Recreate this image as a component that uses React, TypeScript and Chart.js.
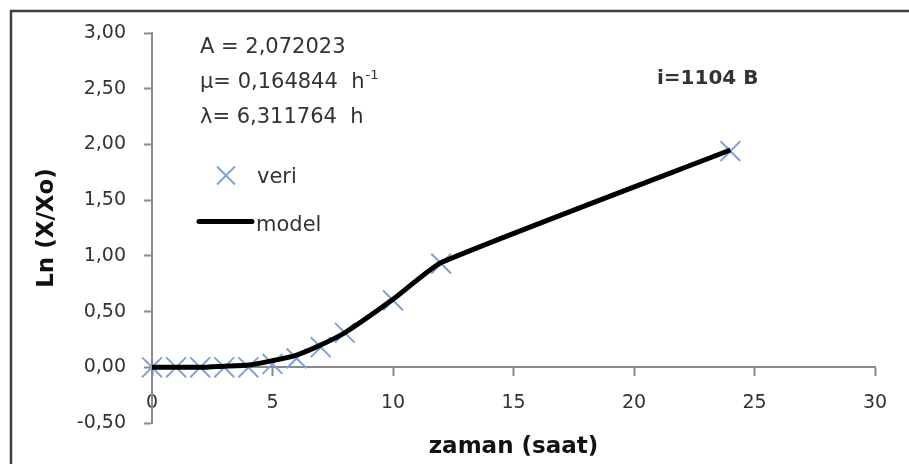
import React, { useEffect, useRef } from 'react';
import { Chart, registerables } from 'chart.js';

Chart.register(...registerables);

// ---- data ----
const veriX = [0, 1, 2, 3, 4, 5, 6, 7, 8, 10, 12, 24];
const veriY = [0.0, 0.0, 0.0, 0.0, 0.0, 0.03, 0.08, 0.18, 0.31, 0.6, 0.93, 1.94];
const modelX = [0, 1, 2, 3, 4, 5, 6, 7, 8, 10, 12, 24];
const modelY = [0.0, 0.0, 0.0, 0.01, 0.02, 0.06, 0.11, 0.2, 0.31, 0.61, 0.94, 1.95];

const xMin = 0;
const xMax = 30;
const xStep = 5;
const yMin = -0.5;
const yMax = 3;
const yStep = 0.5;

const seriesNames = ['veri', 'model'];
const paramLines = ['A = 2,072023', 'μ= 0,164844  h', 'λ= 6,311764  h'];
const paramSup = '-1';
const sampleLabel = 'i=1104 B';
const xTitle = 'zaman (saat)';
const yTitle = 'Ln (X/Xo)';

const FONT = "'DejaVu Sans', sans-serif";
const TEXT = '#333333';
const AXIS = '#8a8a8a';
const CROSS = '#7ea3d6';

const overlay = {
  id: 'overlay',
  afterDraw(chart: any) {
    const ctx = chart.ctx as CanvasRenderingContext2D;
    const ca = chart.chartArea;
    ctx.save();

    // outer frame
    ctx.strokeStyle = '#404040';
    ctx.lineWidth = 2.5;
    ctx.beginPath();
    ctx.moveTo(11, 480);
    ctx.lineTo(11, 11);
    ctx.lineTo(930, 11);
    ctx.stroke();

    // parameter text
    ctx.fillStyle = TEXT;
    ctx.textAlign = 'left';
    ctx.textBaseline = 'alphabetic';
    ctx.font = `21px ${FONT}`;
    const bases = [53, 88, 123];
    paramLines.forEach((t, i) => ctx.fillText(t, 200, bases[i]));
    const w2 = ctx.measureText(paramLines[1]).width;
    ctx.font = `13px ${FONT}`;
    ctx.fillText(paramSup, 200 + w2 + 1, 79);

    // sample label
    ctx.font = `bold 20px ${FONT}`;
    ctx.fillText(sampleLabel, 657, 84);

    // legend
    ctx.strokeStyle = CROSS;
    ctx.lineWidth = 2;
    ctx.beginPath();
    const cx = 226, cy = 175.5, h = 9;
    ctx.moveTo(cx - h, cy - h);
    ctx.lineTo(cx + h, cy + h);
    ctx.moveTo(cx + h, cy - h);
    ctx.lineTo(cx - h, cy + h);
    ctx.stroke();
    ctx.font = `21px ${FONT}`;
    ctx.fillStyle = TEXT;
    ctx.fillText(seriesNames[0], 257, 183);
    ctx.strokeStyle = '#000';
    ctx.lineWidth = 5;
    ctx.lineCap = 'round';
    ctx.beginPath();
    ctx.moveTo(199, 221.5);
    ctx.lineTo(252, 221.5);
    ctx.stroke();
    ctx.fillText(seriesNames[1], 256, 231);

    // axis titles
    ctx.fillStyle = '#111';
    ctx.font = `bold 23px ${FONT}`;
    ctx.textAlign = 'center';
    ctx.fillText(xTitle, (ca.left + ca.right) / 2, 453);
    ctx.save();
    ctx.translate(53, (ca.top + ca.bottom) / 2);
    ctx.rotate(-Math.PI / 2);
    ctx.fillText(yTitle, 0, 0);
    ctx.restore();

    ctx.restore();
  },
};

export default function App() {
  const ref = useRef<HTMLCanvasElement | null>(null);

  useEffect(() => {
    if (!ref.current) return;
    const veri = veriX.map((x, i) => ({ x, y: veriY[i] }));
    const model = modelX.map((x, i) => ({ x, y: modelY[i] }));
    const tickFont = { family: FONT, size: 19 };
    const chart = new Chart(ref.current, {
      type: 'scatter',
      data: {
        datasets: [
          {
            label: seriesNames[1],
            data: model,
            showLine: true,
            borderColor: '#000000',
            borderWidth: 5,
            pointRadius: 0,
            tension: 0.15,
            fill: false,
            order: 0,
            clip: false,
          } as any,
          {
            label: seriesNames[0],
            data: veri,
            showLine: false,
            pointStyle: 'crossRot',
            pointRadius: 14,
            pointBorderColor: CROSS,
            pointBackgroundColor: CROSS,
            pointBorderWidth: 2,
            order: 1,
            clip: false,
          } as any,
        ],
      },
      options: {
        animation: false,
        responsive: true,
        maintainAspectRatio: false,
        events: [],
        layout: { padding: { left: 0, top: 33, right: 34, bottom: 41 } },
        plugins: {
          legend: { display: false },
          tooltip: { enabled: false },
          title: { display: false },
        },
        scales: {
          x: {
            type: 'linear',
            min: xMin,
            max: xMax,
            position: { y: 0 } as any,
            ticks: {
              stepSize: xStep,
              color: TEXT,
              font: tickFont,
              padding: 16,
              maxRotation: 0,
              autoSkip: false,
            },
            grid: {
              drawOnChartArea: false,
              drawTicks: true,
              tickLength: 8,
              tickColor: AXIS,
              tickWidth: 2,
            },
            border: { display: true, color: AXIS, width: 2 },
          },
          y: {
            type: 'linear',
            position: 'left',
            min: yMin,
            max: yMax,
            ticks: {
              stepSize: yStep,
              color: TEXT,
              font: tickFont,
              padding: 18,
              callback: (v: any) => Number(v).toFixed(2).replace('.', ','),
            },
            grid: {
              drawOnChartArea: false,
              drawTicks: true,
              tickLength: 8,
              tickColor: AXIS,
              tickWidth: 2,
            },
            border: { display: true, color: AXIS, width: 2 },
            afterFit: (s: any) => {
              s.width = 152;
            },
          },
        },
      },
      plugins: [overlay],
    });
    return () => chart.destroy();
  }, []);

  return (
    <div style={{ position: 'absolute', left: 0, top: 0, width: 909, height: 464, background: '#fff' }}>
      <canvas ref={ref} />
    </div>
  );
}
